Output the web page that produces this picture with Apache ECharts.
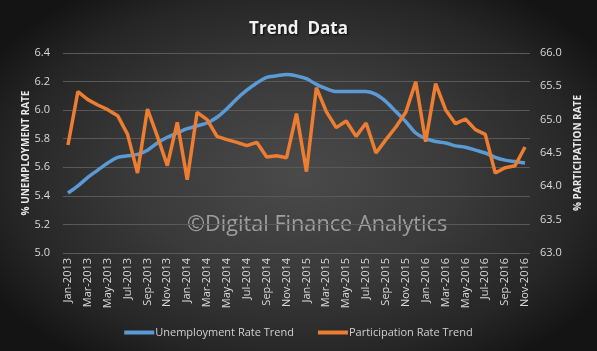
<!DOCTYPE html>
<html>
<head>
<meta charset="utf-8">
<script src="https://cdn.jsdelivr.net/npm/echarts@6/dist/echarts.min.js"></script>
<style>
html,body{margin:0;padding:0;}
body{width:597px;height:351px;background:radial-gradient(ellipse 60% 65% at 50% 50%, #4a4a4a 0%, #3a3a3a 45%, #262626 80%, #141414 100%);}
#c{width:597px;height:351px;}
</style>
</head>
<body>
<div id="c"></div>
<script>
const categories = ["Jan-2013","Feb-2013","Mar-2013","Apr-2013","May-2013","Jun-2013","Jul-2013","Aug-2013","Sep-2013","Oct-2013","Nov-2013","Dec-2013",
"Jan-2014","Feb-2014","Mar-2014","Apr-2014","May-2014","Jun-2014","Jul-2014","Aug-2014","Sep-2014","Oct-2014","Nov-2014","Dec-2014",
"Jan-2015","Feb-2015","Mar-2015","Apr-2015","May-2015","Jun-2015","Jul-2015","Aug-2015","Sep-2015","Oct-2015","Nov-2015","Dec-2015",
"Jan-2016","Feb-2016","Mar-2016","Apr-2016","May-2016","Jun-2016","Jul-2016","Aug-2016","Sep-2016","Oct-2016","Nov-2016"];
const unemployment = [5.42,5.47,5.53,5.58,5.63,5.67,5.68,5.69,5.72,5.77,5.81,5.84,
5.87,5.89,5.91,5.95,6.01,6.08,6.14,6.19,6.23,6.24,6.25,6.24,
6.22,6.18,6.15,6.13,6.13,6.13,6.13,6.11,6.06,5.99,5.92,5.84,
5.80,5.78,5.77,5.75,5.74,5.72,5.70,5.67,5.65,5.64,5.63];
const participation = [64.62,65.42,65.30,65.22,65.15,65.06,64.78,64.20,65.16,64.75,64.31,64.96,
64.10,65.11,65.00,64.75,64.70,64.66,64.61,64.66,64.44,64.46,64.43,65.09,
64.22,65.48,65.12,64.88,64.98,64.75,64.95,64.50,64.70,64.89,65.11,65.57,
64.67,65.54,65.15,64.94,65.01,64.85,64.78,64.20,64.28,64.31,64.59];
const seriesNames = ["Unemployment Rate Trend","Participation Rate Trend"];
const titleText = "Trend  Data";
const leftAxisName = "% UNEMPLOYMENT RATE";
const rightAxisName = "% PARTICIPATION RATE";
const watermark = "\u00A9Digital Finance Analytics";

const chart = echarts.init(document.getElementById('c'), null, {renderer:'canvas'});
const labelColor = '#d9d9d9';
const font = '"Open Sans", "Noto Sans", sans-serif';
chart.setOption({
  backgroundColor: 'transparent',
  animation: false,
  title: {
    text: titleText, left: 'center', top: 16,
    textStyle: {color:'#f2f2f2', fontSize:17, fontWeight:'bold', fontFamily:font,
      textShadowColor:'rgba(0,0,0,0.8)', textShadowBlur:2, textShadowOffsetX:1, textShadowOffsetY:1}
  },
  graphic: [{
    type:'text', left: 187, top: 214, z: 0,
    style:{text: watermark, fill:'rgba(190,190,190,0.75)', font:'21.7px "Open Sans", "Noto Sans", sans-serif'}
  }],
  legend: {
    bottom: 8, left: 'center', itemWidth: 30, itemHeight: 4, itemGap: 24,
    icon: 'rect',
    textStyle: {color:'#d0d0d0', fontSize:11, fontFamily:font, padding:[0,0,0,-4]},
    data: seriesNames
  },
  grid: {left: 63, right: 67, top: 53, bottom: 98},
  xAxis: {
    type:'category', data: categories, boundaryGap: true,
    axisLine:{show:false}, axisTick:{show:false},
    axisLabel:{color:labelColor, rotate:90, interval:1, fontSize:11, fontFamily:font, margin:5}
  },
  yAxis: [{
    type:'value', min:5.0, max:6.4, interval:0.2, position:'left',
    name:leftAxisName, nameLocation:'middle', nameRotate:90, nameGap:32, nameMoveOverlap:false,
    nameTextStyle:{color:'#e8e8e8', fontSize:10, fontWeight:'bold', fontFamily:font},
    axisLabel:{color:labelColor, fontSize:11, fontFamily:font, margin:13, formatter:v=>v.toFixed(1)},
    axisLine:{show:false}, axisTick:{show:false},
    splitLine:{lineStyle:{color:'#595959', width:1}}
  },{
    type:'value', min:63, max:66, interval:0.5, position:'right',
    name:rightAxisName, nameLocation:'middle', nameRotate:90, nameGap:43, nameMoveOverlap:false,
    nameTextStyle:{color:'#e8e8e8', fontSize:10, fontWeight:'bold', fontFamily:font},
    axisLabel:{color:labelColor, fontSize:11, fontFamily:font, margin:10, formatter:v=>v.toFixed(1)},
    axisLine:{show:false}, axisTick:{show:false}, splitLine:{show:false}
  }],
  series: [{
    name: seriesNames[0], type:'line', yAxisIndex:0, data: unemployment,
    smooth: 0.3, showSymbol:false, symbol:'none',
    lineStyle:{color:'#5b9bd5', width:3.5}, itemStyle:{color:'#5b9bd5'}, z:3
  },{
    name: seriesNames[1], type:'line', yAxisIndex:1, data: participation,
    smooth: false, showSymbol:false, symbol:'none',
    lineStyle:{color:'#ed7d31', width:3.5}, itemStyle:{color:'#ed7d31'}, z:4
  }]
});
</script>
</body>
</html>
